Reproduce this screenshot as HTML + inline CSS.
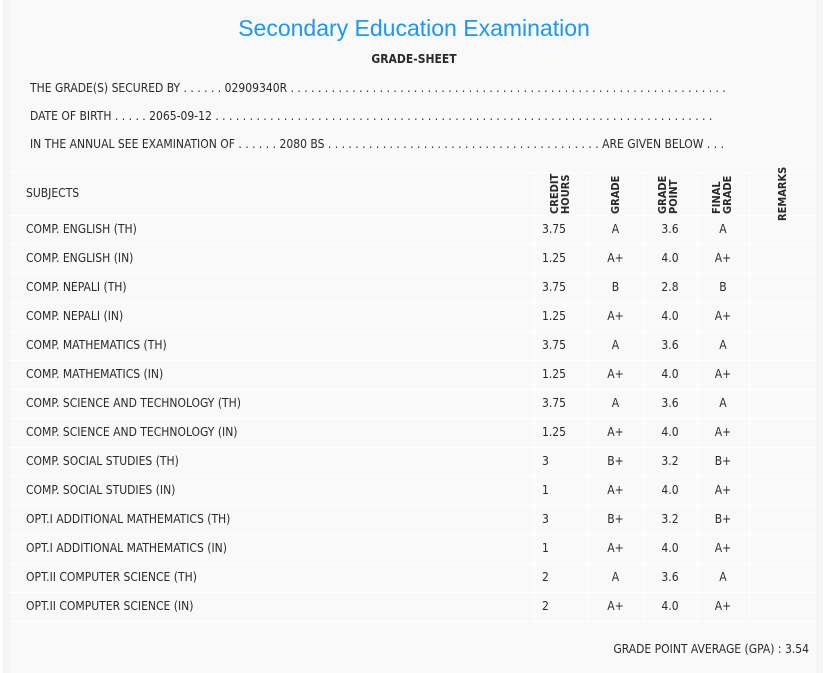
<!DOCTYPE html>
<html><head><meta charset="utf-8"><style>
*{margin:0;padding:0;box-sizing:border-box}
body{width:834px;height:673px;background:#fff;position:relative;overflow:hidden;font-family:"DejaVu Sans Condensed","DejaVu Sans","Liberation Sans",sans-serif;font-size:12px;color:#2a2a2a}
#panel{position:absolute;left:3px;top:0;width:820px;height:673px;background:#f5f5f5}
#inner{position:absolute;left:10px;top:0;width:806px;height:673px;background:#f9f9f9}
.t{position:absolute;white-space:nowrap}
.h{position:absolute;left:10px;width:806px;height:1px;background:#fff}
.v{position:absolute;width:1px;background:#fff}
.c{position:absolute;text-align:center;white-space:nowrap}
.r{position:absolute;white-space:nowrap;font-weight:bold;transform-origin:left top;transform:rotate(-90deg);line-height:11px;font-size:11px}
</style></head><body>
<div id="panel"></div><div id="inner"></div>
<div class="t" style="left:0;width:828px;text-align:center;top:15px;font-family:'Liberation Sans',sans-serif;font-size:23px;color:#2196f3">Secondary Education Examination</div>
<div class="t" style="left:0;width:828px;text-align:center;top:52px;font-weight:bold;font-size:12px">GRADE-SHEET</div>
<div class="t" style="left:30px;top:81px">THE GRADE(S) SECURED BY . . . . . . 02909340R . . . . . . . . . . . . . . . . . . . . . . . . . . . . . . . . . . . . . . . . . . . . . . . . . . . . . . . . . . . . . . . .</div>
<div class="t" style="left:30px;top:109px">DATE OF BIRTH . . . . . 2065-09-12 . . . . . . . . . . . . . . . . . . . . . . . . . . . . . . . . . . . . . . . . . . . . . . . . . . . . . . . . . . . . . . . . . . . . . . . . .</div>
<div class="t" style="left:30px;top:137px">IN THE ANNUAL SEE EXAMINATION OF . . . . . . 2080 BS . . . . . . . . . . . . . . . . . . . . . . . . . . . . . . . . . . . . . . . . ARE GIVEN BELOW . . .</div>
<div class="h" style="top:172px"></div>
<div class="h" style="top:215px"></div>
<div class="v" style="left:534px;top:172px;height:450px"></div>
<div class="v" style="left:588px;top:172px;height:450px"></div>
<div class="v" style="left:643px;top:172px;height:450px"></div>
<div class="v" style="left:697px;top:172px;height:450px"></div>
<div class="v" style="left:749px;top:172px;height:450px"></div>
<div class="t" style="left:26px;top:186px">SUBJECTS</div>
<div class="r" style="left:549px;top:214px">CREDIT<br>HOURS</div>
<div class="r" style="left:610px;top:214px">GRADE</div>
<div class="r" style="left:657px;top:214px">GRADE<br>POINT</div>
<div class="r" style="left:711px;top:214px">FINAL<br>GRADE</div>
<div class="r" style="left:777px;top:221px">REMARKS</div>
<div id="rows"></div>
<script>
var d=[["COMP. ENGLISH (TH)","3.75","A","3.6","A"],["COMP. ENGLISH (IN)","1.25","A+","4.0","A+"],["COMP. NEPALI (TH)","3.75","B","2.8","B"],["COMP. NEPALI (IN)","1.25","A+","4.0","A+"],["COMP. MATHEMATICS (TH)","3.75","A","3.6","A"],["COMP. MATHEMATICS (IN)","1.25","A+","4.0","A+"],["COMP. SCIENCE AND TECHNOLOGY (TH)","3.75","A","3.6","A"],["COMP. SCIENCE AND TECHNOLOGY (IN)","1.25","A+","4.0","A+"],["COMP. SOCIAL STUDIES (TH)","3","B+","3.2","B+"],["COMP. SOCIAL STUDIES (IN)","1","A+","4.0","A+"],["OPT.I ADDITIONAL MATHEMATICS (TH)","3","B+","3.2","B+"],["OPT.I ADDITIONAL MATHEMATICS (IN)","1","A+","4.0","A+"],["OPT.II COMPUTER SCIENCE (TH)","2","A","3.6","A"],["OPT.II COMPUTER SCIENCE (IN)","2","A+","4.0","A+"]];
var h="";d.forEach(function(r,i){var y=215+i*29;
h+='<div class="h" style="top:'+(y+29)+'px"></div>';
h+='<div class="t" style="left:26px;top:'+(y+7)+'px">'+r[0]+'</div>';
h+='<div class="t" style="left:542px;top:'+(y+7)+'px">'+r[1]+'</div>';
h+='<div class="c" style="left:588px;width:55px;top:'+(y+7)+'px">'+r[2]+'</div>';
h+='<div class="c" style="left:643px;width:54px;top:'+(y+7)+'px">'+r[3]+'</div>';
h+='<div class="c" style="left:697px;width:52px;top:'+(y+7)+'px">'+r[4]+'</div>';});
document.getElementById("rows").innerHTML=h;
</script>
<div class="t" style="right:25px;top:642px">GRADE POINT AVERAGE (GPA) : 3.54</div>
</body></html>
